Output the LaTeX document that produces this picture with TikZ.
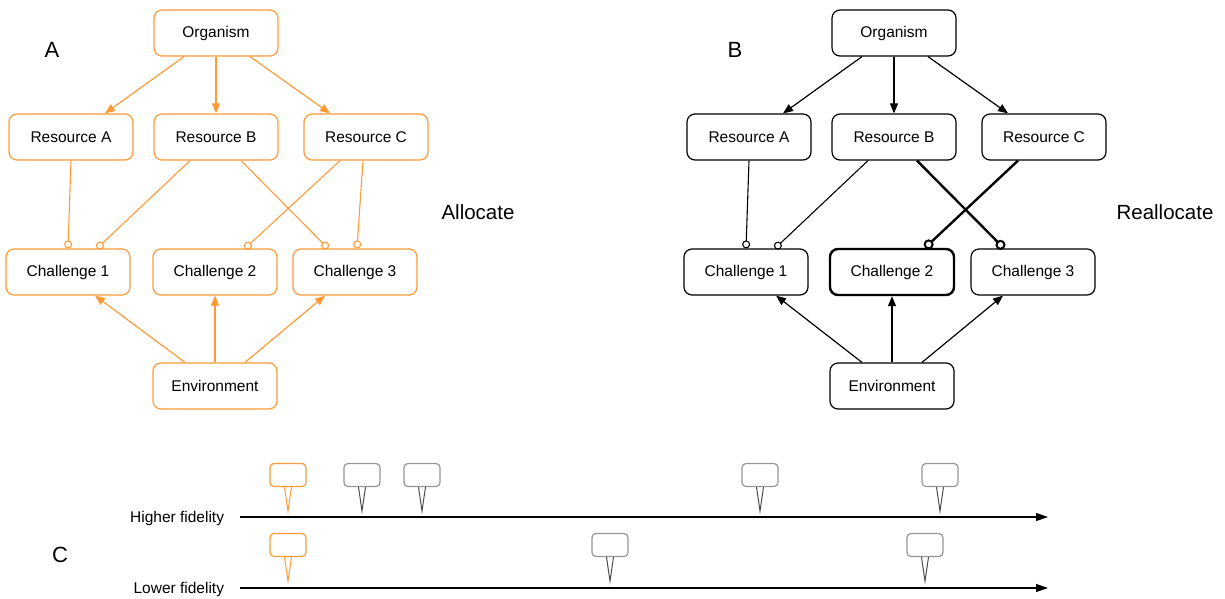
\documentclass[tikz,border=0pt]{standalone}
\usepackage{fontspec}
\setmainfont{Liberation Sans}
\usetikzlibrary{arrows.meta}
\definecolor{drawio}{RGB}{255,155,55}
\definecolor{pingray}{RGB}{150,150,150}
\tikzset{
  box/.style={draw, rounded corners=8pt, minimum width=124pt, minimum height=46pt,
              fill=white, line width=1.2pt, font=\fontsize{15.5}{18}\selectfont},
  feed/.style={-{Triangle[length=10pt,width=8pt]}, line width=1.2pt},
  use/.style={-{Circle[open,length=8pt,width=8pt]}, line width=1.1pt},
  bigUse/.style={-{Circle[open,length=10pt,width=10pt,line width=2pt]}, line width=2.4pt},
  pinbox/.style={draw, rounded corners=4pt, minimum width=36pt, minimum height=23pt,
                 inner sep=0pt, line width=1.2pt, fill=white},
  panel/.style={font=\fontsize{22}{24}\selectfont},
  side/.style={font=\fontsize{20.5}{24}\selectfont},
  axis/.style={-{Triangle[length=12pt,width=8pt]}, line width=1.2pt},
}
\begin{document}
\begin{tikzpicture}[x=1pt, y=-1pt]
    \useasboundingbox (0, 0) rectangle (1225, 599);

    % A: allocate
    \begin{scope}[draw=drawio, color=drawio]
      \node[box, text=black] (orgA) at (216, 33) {Organism};
      \node[box, text=black] (raA) at (71, 137) {Resource A};
      \node[box, text=black] (rbA) at (216, 137) {Resource B};
      \node[box, text=black] (rcA) at (366, 137) {Resource C};
      \node[box, text=black] (c1A) at (68, 272) {Challenge 1};
      \node[box, text=black] (c2A) at (215, 272) {Challenge 2};
      \node[box, text=black] (c3A) at (355, 272) {Challenge 3};
      \node[box, text=black] (envA) at (215, 386) {Environment};
      \draw[feed] ([xshift=-32]orgA.south) -- ([xshift=34]raA.north);
      \draw[feed] (orgA.south) -- (rbA.north);
      \draw[feed] ([xshift=34]orgA.south) -- ([xshift=-36]rcA.north);
      \draw[use] (raA.south) -- (c1A.north);
      \draw[use] ([xshift=-26]rbA.south) -- ([xshift=29]c1A.north);
      \draw[use] ([xshift=25]rbA.south) -- ([xshift=-27]c3A.north);
      \draw[use] ([xshift=-26]rcA.south) -- ([xshift=30]c2A.north);
      \draw[use] ([xshift=-3]rcA.south) -- ([xshift=2]c3A.north);
      \draw[feed] ([xshift=-30]envA.north) -- ([xshift=27]c1A.south);
      \draw[feed] (envA.north) -- (c2A.south);
      \draw[feed] ([xshift=30]envA.north) -- ([xshift=-30]c3A.south);
    \end{scope}
    \node[panel] (labA) at (52, 50) {A};
    \node[side] (alloc) at (478, 212) {Allocate};

    % B: reallocate
    \node[box] (orgB) at (894, 33) {Organism};
    \node[box] (raB) at (749, 137) {Resource A};
    \node[box] (rbB) at (894, 137) {Resource B};
    \node[box] (rcB) at (1044, 137) {Resource C};
    \node[box] (c1B) at (746, 272) {Challenge 1};
    \node[box, line width=2.4pt] (c2B) at (892, 272) {Challenge 2};
    \node[box] (c3B) at (1033, 272) {Challenge 3};
    \node[box] (envB) at (892, 386) {Environment};
    \draw[feed] ([xshift=-32]orgB.south) -- ([xshift=34]raB.north);
    \draw[feed] (orgB.south) -- (rbB.north);
    \draw[feed] ([xshift=34]orgB.south) -- ([xshift=-36]rcB.north);
    \draw[use] (raB.south) -- (c1B.north);
    \draw[use] ([xshift=-26]rbB.south) -- ([xshift=29]c1B.north);
    \draw[bigUse] ([xshift=23]rbB.south) -- ([xshift=-29]c3B.north);
    \draw[bigUse] ([xshift=-26]rcB.south) -- ([xshift=33]c2B.north);
    \draw[feed] ([xshift=-30]envB.north) -- ([xshift=30]c1B.south);
    \draw[feed] (envB.north) -- (c2B.south);
    \draw[feed] ([xshift=30]envB.north) -- ([xshift=-30]c3B.south);
    \node[panel] (labB) at (735, 50) {B};
    \node[side] (realloc) at (1165, 212) {Reallocate};

    % C: timelines
    \node[panel] (labC) at (60, 555) {C};
    \node[box, draw=none, fill=none, minimum width=0pt, anchor=east] (hiLab) at (228, 518) {Higher fidelity};
    \node[box, draw=none, fill=none, minimum width=0pt, anchor=east] (loLab) at (228, 589) {Lower fidelity};
    \coordinate (hiStart) at (240, 517);
    \coordinate (hiEnd) at (1048, 517);
    \coordinate (loStart) at (240, 588);
    \coordinate (loEnd) at (1048, 588);
    \draw[axis] (hiStart) -- (hiEnd);
    \draw[axis] (loStart) -- (loEnd);
    \foreach \name/\px/\py/\col/\tip in {h0/288/475/drawio/drawio, h1/362/475/pingray/black!70,
        h2/422/475/pingray/black!70, h3/760/475/pingray/black!70, h4/940/475/pingray/black!70,
        l0/288/545/drawio/drawio, l1/610/545/pingray/black!70, l2/925/545/pingray/black!70} {
      \node[pinbox, draw=\col] (\name) at (\px, \py) {};
      \draw[\tip, line width=1pt] ([xshift=-3.5]\name.south) -- ++(3.5, 24) -- ([xshift=3.5]\name.south);
    }
\end{tikzpicture}
\end{document}
